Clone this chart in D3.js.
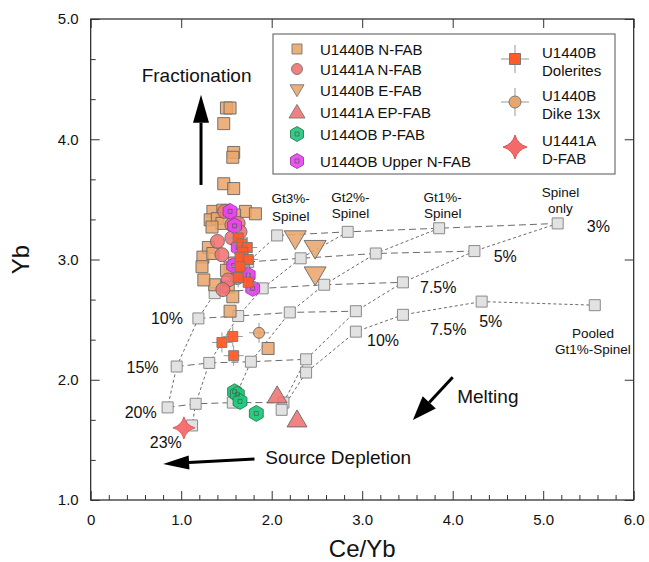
<!DOCTYPE html>
<html><head><meta charset="utf-8">
<script src="https://cdn.jsdelivr.net/npm/d3@7"></script>
<style>body{margin:0;background:#fff} text{font-family:"Liberation Sans",Arial,Helvetica,sans-serif;fill:#111}</style>
</head><body><svg id="c" width="649" height="562"></svg>
<script>
// ---------- data ----------
const xTicks = [0,1,2,3,4,5,6];
const yTicks = [1,2,3,4,5];
const meltLabels = ["3%","5%","7.5%","10%","15%","20%","23%"];

// melting model grid (Ce/Yb, Yb) per source
const gt3Ce = [2.06,1.74,1.37,1.19,0.95,0.85];
const gt3Yb = [3.20,2.98,2.72,2.51,2.11,1.77];
const gt2Ce = [2.84,2.32,1.90,1.63,1.31,1.16,1.12];
const gt2Yb = [3.23,3.01,2.76,2.53,2.14,1.80,1.62];
const gt1Ce = [3.85,3.15,2.58,2.20,1.77,1.57];
const gt1Yb = [3.26,3.05,2.79,2.56,2.15,1.81];
const spCe  = [5.16,4.24,3.45,2.93,2.38,2.13];
const spYb  = [3.30,3.07,2.81,2.57,2.17,1.81];
const poolCe = [5.57,4.32,3.45,2.93,2.38,2.11];
const poolYb = [2.62,2.65,2.54,2.40,2.06,1.75];

// samples
const nfabBCe = [1.50,1.54,1.47,1.58,1.57,1.47,1.58,1.35,1.46,1.71,1.82,1.32,1.40,1.45,1.34,1.59,1.30,1.24,1.35,1.23,1.54,1.59,1.37,1.52,1.57,1.54,1.96,1.50,1.25];
const nfabBYb = [4.26,4.26,4.13,3.89,3.85,3.63,3.59,3.40,3.41,3.40,3.38,3.33,3.34,3.30,3.27,3.37,3.10,3.02,3.05,2.94,2.93,2.97,2.79,2.77,2.69,2.57,2.26,2.91,2.83];
const nfabACe = [1.48,1.56,1.40,1.56,1.45,1.68,1.62,1.52,1.46,1.63,1.65];
const nfabAYb = [3.40,3.29,3.15,3.18,3.04,2.94,2.85,2.83,2.75,3.30,3.23];
const efabCe = [2.26,2.48,2.48];
const efabYb = [3.17,3.09,2.87];
const epfabCe = [2.06,2.28];
const epfabYb = [1.87,1.67];
const pfabCe = [1.59,1.62,1.65,1.83];
const pfabYb = [1.90,1.88,1.82,1.72];
const upperCe = [1.54,1.59,1.63,1.58,1.74,1.79];
const upperYb = [3.40,3.28,3.10,2.95,2.87,2.76];
const dolCe = [1.63,1.67,1.73,1.68,1.65,1.74,1.65,1.74,1.63,1.45,1.57,1.58];
const dolYb = [3.18,3.13,3.10,3.06,3.02,3.00,2.94,2.81,2.85,2.31,2.36,2.20];
const dikeCe = [1.86];
const dikeYb = [2.39];
const dfabCe = [1.03];
const dfabYb = [1.60];

// ---------- setup ----------
const svg = d3.select("#c");
const x = d3.scaleLinear().domain([0,6]).range([90.7,633.7]);
const y = d3.scaleLinear().domain([1,5]).range([500,19]);
const zip = (a,b) => a.map((v,i)=>[v,b[i]]);

const C = {
  nfabB:"#E9A66C", nfabA:"#F07272", efab:"#E9A66C", epfab:"#F07272",
  pfab:"#1DC87A", upper:"#E545EE", dol:"#FF5A28", dike:"#E9A66C", dfab:"#F46A6A"
};

function shape(type, s){
  const h = s/2;
  switch(type){
    case "square": return `M${-h},${-h}H${h}V${h}H${-h}Z`;
    case "circle": return d3.symbol(d3.symbolCircle, Math.PI*h*h)();
    case "tri": return `M0,${-h*0.95}L${h},${h*0.75}L${-h},${h*0.75}Z`;
    case "itri": return `M0,${h*0.95}L${h},${-h*0.75}L${-h},${-h*0.75}Z`;
    case "hex": {
      let p=[]; for(let i=0;i<6;i++){const a=Math.PI/3*i-Math.PI/2; p.push([h*Math.cos(a),h*Math.sin(a)]);}
      return "M"+p.map(q=>q.join(",")).join("L")+"Z";
    }
    case "star": {
      const w=h*0.22; return `M0,${-h}Q${w},${-w} ${h},0Q${w},${w} 0,${h}Q${-w},${w} ${-h},0Q${-w},${-w} 0,${-h}Z`;
    }
  }
}

// ---------- frame ----------
const frame = svg.append("g");
frame.append("rect").attr("x",x(0)).attr("y",y(5)).attr("width",x(6)-x(0)).attr("height",y(1)-y(5))
  .attr("fill","none").attr("stroke","#222").attr("stroke-width",1.2);

const fmt = d => d===0 ? "0" : d.toFixed(1);
const minorX = d3.range(0,6.001,0.2).filter(v=>Math.abs(v-Math.round(v))>1e-6);
const minorY = d3.range(1,5.001,1/3).filter(v=>Math.abs(v-Math.round(v))>1e-6);

function ax(gen, tr){
  const g = svg.append("g").attr("transform",tr).call(gen);
  g.select(".domain").remove();
  g.selectAll(".tick line").attr("stroke","#333").attr("stroke-width",1);
  return g;
}
const bx = ax(d3.axisBottom(x).tickValues(xTicks).tickSizeInner(-9).tickSizeOuter(0).tickPadding(14).tickFormat(fmt),`translate(0,${y(1)})`);
bx.selectAll("text").attr("font-size",15).attr("font-family","Liberation Sans, Arial, sans-serif").attr("fill","#111");
ax(d3.axisBottom(x).tickValues(minorX).tickSizeInner(-5).tickSizeOuter(0).tickFormat(""),`translate(0,${y(1)})`);
ax(d3.axisTop(x).tickValues(xTicks).tickSizeInner(-9).tickSizeOuter(0).tickFormat(""),`translate(0,${y(5)})`);
const ly = ax(d3.axisLeft(y).tickValues(yTicks).tickSizeInner(-9).tickSizeOuter(0).tickPadding(12).tickFormat(d=>d.toFixed(1)),`translate(${x(0)},0)`);
ly.selectAll("text").attr("font-size",15).attr("font-family","Liberation Sans, Arial, sans-serif").attr("fill","#111");
ax(d3.axisLeft(y).tickValues(minorY).tickSizeInner(-5).tickSizeOuter(0).tickFormat(""),`translate(${x(0)},0)`);
ax(d3.axisRight(y).tickValues(yTicks).tickSizeInner(-9).tickSizeOuter(0).tickFormat(""),`translate(${x(6)},0)`);

svg.append("text").attr("x",(x(0)+x(6))/2).attr("y",557).attr("text-anchor","middle").attr("font-size",24).text("Ce/Yb");
svg.append("text").attr("transform",`translate(29,${y(3)}) rotate(-90)`).attr("text-anchor","middle").attr("font-size",24).text("Yb");

// ---------- model grid ----------
const sources = [zip(gt3Ce,gt3Yb), zip(gt2Ce,gt2Yb), zip(gt1Ce,gt1Yb), zip(spCe,spYb)];
const pooled = zip(poolCe,poolYb);
const line = d3.line().x(d=>x(d[0])).y(d=>y(d[1]));
const gg = svg.append("g");
for(let i=0;i<6;i++){
  const pts = sources.map(s=>s[i]).filter(Boolean);
  gg.append("path").attr("d",line(pts)).attr("fill","none").attr("stroke","#444").attr("stroke-width",0.8).attr("stroke-dasharray","7,4");
}
sources.forEach(s=>gg.append("path").attr("d",line(s)).attr("fill","none").attr("stroke","#444").attr("stroke-width",0.8).attr("stroke-dasharray","3,2.5"));
gg.append("path").attr("d",line(pooled)).attr("fill","none").attr("stroke","#444").attr("stroke-width",0.8).attr("stroke-dasharray","3,2.5");
const allGrid = sources.flat().concat(pooled);
gg.selectAll("path.sq").data(allGrid).enter().append("path").attr("class","sq")
  .attr("transform",d=>`translate(${x(d[0])},${y(d[1])})`).attr("d",shape("square",11))
  .attr("fill","#E2E2E2").attr("stroke","#8a8a8a").attr("stroke-width",1);

const lab = (t,cx,cy,fs,anchor="middle") => svg.append("text").attr("x",x(cx)).attr("y",y(cy)).attr("font-size",fs).attr("text-anchor",anchor).text(t);
lab("Gt3%-",2.21,3.47,13.5); lab("Spinel",2.21,3.32,13.5);
lab("Gt2%-",2.87,3.48,13.5); lab("Spinel",2.87,3.345,13.5);
lab("Gt1%-",3.89,3.48,13.5); lab("Spinel",3.89,3.345,13.5);
lab("Spinel",5.19,3.52,13.5); lab("only",5.19,3.387,13.5);
lab(meltLabels[0],5.61,3.23,16); lab(meltLabels[1],4.58,2.98,16); lab(meltLabels[2],3.84,2.72,16);
lab(meltLabels[3],1.02,2.46,16,"end"); lab(meltLabels[4],0.75,2.06,16,"end"); lab(meltLabels[5],0.73,1.68,16,"end");
lab(meltLabels[6],0.83,1.43,16);
lab("7.5%",3.95,2.37,16); lab("5%",4.42,2.44,16); lab(meltLabels[3],3.23,2.28,16);
lab("Pooled",5.55,2.35,13.5); lab("Gt1%-Spinel",5.55,2.21,13.5);

// ---------- samples ----------
const sg = svg.append("g");
function pts(ce,yb,type,size,fill,stroke="#666",op=0.88){
  sg.append("g").selectAll("path").data(zip(ce,yb)).enter().append("path")
    .attr("transform",d=>`translate(${x(d[0])},${y(d[1])})`).attr("d",shape(type,size))
    .attr("fill",fill).attr("fill-opacity",op).attr("stroke",stroke).attr("stroke-width",0.9);
}
function inner(ce,yb){
  sg.append("g").selectAll("path").data(zip(ce,yb)).enter().append("path")
    .attr("transform",d=>`translate(${x(d[0])},${y(d[1])})`).attr("d",shape("square",4)).attr("fill","none").attr("stroke","#555").attr("stroke-width",0.7);
}
function cross(ce,yb,len){
  sg.append("g").selectAll("path").data(zip(ce,yb)).enter().append("path")
    .attr("d",d=>`M${x(d[0])-len},${y(d[1])}H${x(d[0])+len}M${x(d[0])},${y(d[1])-len}V${y(d[1])+len}`)
    .attr("stroke","#999").attr("stroke-width",1);
}
pts(nfabBCe,nfabBYb,"square",12,C.nfabB);
pts(nfabACe,nfabAYb,"circle",14,C.nfabA);
pts(upperCe,upperYb,"hex",16,C.upper,"#9a3aa0",0.95);
inner(upperCe,upperYb);
cross(dolCe,dolYb,10);
pts(dolCe,dolYb,"square",10,C.dol,"#777",0.95);
cross(dikeCe,dikeYb,10);
pts(dikeCe,dikeYb,"circle",11,C.dike);
pts(efabCe,efabYb,"itri",22,C.efab);
pts(epfabCe,epfabYb,"tri",20,C.epfab);
pts(pfabCe,pfabYb,"hex",16,C.pfab,"#2a7a50",0.95);
inner(pfabCe,pfabYb);
pts(dfabCe,dfabYb,"star",22,C.dfab,"#d55",0.95);

// ---------- arrows & annotations ----------
function arrow(x1,y1,x2,y2,hl,hw,sw){
  const X1=x(x1),Y1=y(y1),X2=x(x2),Y2=y(y2);
  const a=Math.atan2(Y2-Y1,X2-X1), bx=X2-hl*Math.cos(a), by=Y2-hl*Math.sin(a);
  svg.append("line").attr("x1",X1).attr("y1",Y1).attr("x2",bx).attr("y2",by).attr("stroke","#000").attr("stroke-width",sw);
  const px=-Math.sin(a)*hw, py=Math.cos(a)*hw;
  svg.append("path").attr("d",`M${X2},${Y2}L${bx+px},${by+py}L${bx-px},${by-py}Z`).attr("fill","#000");
}
arrow(1.219,3.62,1.219,4.37,28,8,3);
arrow(4.00,2.02,3.56,1.665,24,9,3);
arrow(1.81,1.34,0.80,1.30,26,7,3);
svg.append("text").attr("x",x(1.17)).attr("y",y(4.48)).attr("text-anchor","middle").attr("font-size",19).text("Fractionation");
svg.append("text").attr("x",x(4.05)).attr("y",y(1.81)).attr("font-size",19).text("Melting");
svg.append("text").attr("x",x(1.93)).attr("y",y(1.30)).attr("font-size",19).text("Source Depletion");

// ---------- legend ----------
const legL = ["U1440B N-FAB","U1441A N-FAB","U1440B E-FAB","U1441A EP-FAB","U144OB P-FAB","U144OB Upper N-FAB"];
const legLShape = ["square","circle","itri","tri","hex","hex"];
const legLSize = [10,11,14,16,15,15];
const legLCol = [C.nfabB,C.nfabA,C.efab,C.epfab,C.pfab,C.upper];
const legR = [["U1440B","Dolerites"],["U1440B","Dike 13x"],["U1441A","D-FAB"]];
const lg = svg.append("g");
lg.append("rect").attr("x",273).attr("y",34).attr("width",342).attr("height",140).attr("fill","#fff").attr("stroke","#555").attr("stroke-width",1);
const rowY = [49,69,90,112,134,161];
legL.forEach((t,i)=>{
  lg.append("path").attr("transform",`translate(297,${rowY[i]})`).attr("d",shape(legLShape[i],legLSize[i]))
    .attr("fill",legLCol[i]).attr("fill-opacity",0.9).attr("stroke",i===4?"#2a7a50":i===5?"#9a3aa0":"#777").attr("stroke-width",0.9);
  if(i>=4) lg.append("path").attr("transform",`translate(297,${rowY[i]})`).attr("d",shape("square",4)).attr("fill","none").attr("stroke","#555").attr("stroke-width",0.7);
  lg.append("text").attr("x",320).attr("y",rowY[i]+5.5).attr("font-size",15).text(t);
});
const rY = [59,102,147];
legR.forEach((t,i)=>{
  lg.append("text").attr("x",542).attr("y",rY[i]-1).attr("font-size",15).text(t[0]);
  lg.append("text").attr("x",542).attr("y",rY[i]+17).attr("font-size",15).text(t[1]);
});
lg.append("path").attr("d",`M501,${rY[0]}H529M515,${rY[0]-14}V${rY[0]+14}`).attr("stroke","#999").attr("stroke-width",1);
lg.append("path").attr("transform",`translate(515,${rY[0]})`).attr("d",shape("square",11)).attr("fill",C.dol).attr("stroke","#777");
lg.append("path").attr("d",`M501,${rY[1]}H529M515,${rY[1]-14}V${rY[1]+14}`).attr("stroke","#999").attr("stroke-width",1);
lg.append("path").attr("transform",`translate(515,${rY[1]})`).attr("d",shape("circle",12)).attr("fill",C.dike).attr("stroke","#777");
lg.append("path").attr("transform",`translate(515,${rY[2]})`).attr("d",shape("star",24)).attr("fill",C.dfab).attr("stroke","#d55");
</script></body></html>
